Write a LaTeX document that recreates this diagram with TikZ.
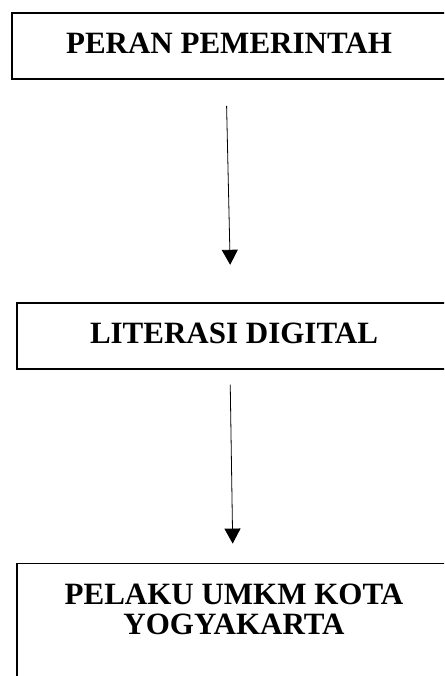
\documentclass[tikz,border=0pt]{standalone}
\usepackage{fontspec}
\setmainfont{Liberation Serif}
\usetikzlibrary{arrows.meta}

\begin{document}
\begin{tikzpicture}[x=1pt, y=1pt,
    kotak/.style={draw, rectangle, line width=1.8pt, minimum width=434pt, inner ysep=20pt,
        text height=21pt, align=center, font=\fontsize{31}{30}\selectfont\bfseries},
    panah/.style={-{Triangle[length=15pt, width=16pt]}, line width=0.8pt}]
        \path[use as bounding box, clip] (0,0) rectangle (444,676);
        \node[kotak, text depth=5pt, anchor=north] (peran) at (229,664) {PERAN PEMERINTAH};
        \node[kotak, text depth=5pt, anchor=north] (literasi) at ([xshift=5pt, yshift=-222pt]peran.south) {LITERASI DIGITAL};
        \node[kotak, text height=51pt, text depth=140pt, anchor=north] (pelaku) at ([yshift=-193pt]literasi.south) {PELAKU UMKM KOTA\\YOGYAKARTA};
        \draw[panah, shorten <=26pt, shorten >=37pt] ([xshift=-3pt]peran.south) -- ([xshift=-3pt]literasi.north);
        \draw[panah, shorten <=15pt, shorten >=19pt] ([xshift=-4pt]literasi.south) -- ([xshift=-1pt]pelaku.north);
    \end{tikzpicture}
\end{document}
